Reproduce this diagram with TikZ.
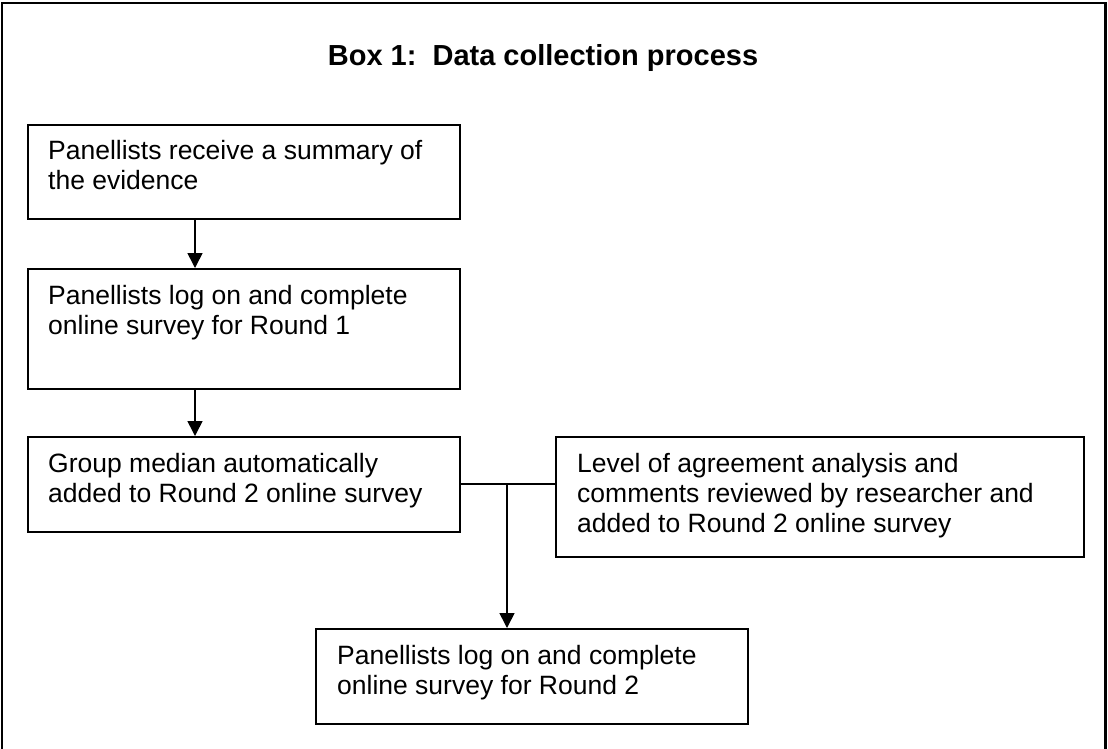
\documentclass[tikz,border=0pt]{standalone}
\usepackage{fontspec}
\setmainfont{Liberation Sans}
\usetikzlibrary{arrows.meta}
\begin{document}
\begin{tikzpicture}[x=1pt,y=-1pt,
  stepbox/.style={draw=black,line width=1.8pt,rectangle,inner sep=0pt,anchor=north west,minimum height=#1},
  boxtext/.style={anchor=base west,align=left,inner sep=0pt,font=\fontsize{26.5}{30}\selectfont},
  arr/.style={line width=1.6pt,-{Triangle[length=15pt,width=15pt]}},
  link/.style={line width=1.6pt}]
\useasboundingbox (0,0) rectangle (1108,748);
% outer frame
\draw[line width=2.6pt] (2,760) -- (2,3) -- (1105.5,3) -- (1105.5,760);
% title
\node[anchor=base,inner sep=0pt,font=\fontsize{29}{34}\selectfont\bfseries] (title) at (543,65) {Box 1:\ \ Data collection process};
% boxes
\node[stepbox=94pt,minimum width=432pt] (b1) at (27,124) {};
\node[stepbox=120pt,minimum width=432pt] (b2) at (27,268) {};
\node[stepbox=95pt,minimum width=432pt] (b3) at (27,436) {};
\node[stepbox=120pt,minimum width=528pt] (b4) at (555,436) {};
\node[stepbox=95pt,minimum width=432pt] (b5) at (315,628) {};
% texts (anchored at the baseline of their last line)
\node[boxtext] (t1) at (48,189) {Panellists receive a summary of\\the evidence};
\node[boxtext] (t2) at (48,334) {Panellists log on and complete\\online survey for Round 1};
\node[boxtext] (t3) at (48,502) {Group median automatically\\added to Round 2 online survey};
\node[boxtext] (t4) at (577,532) {Level of agreement analysis and\\comments reviewed by researcher and\\added to Round 2 online survey};
\node[boxtext] (t5) at (337,694) {Panellists log on and complete\\online survey for Round 2};
% connectors
\coordinate (c1) at (195,0);
\coordinate (j) at (507,484);
\draw[arr] (b1.south -| c1) -- (b2.north -| c1);
\draw[arr] (b2.south -| c1) -- (b3.north -| c1);
\draw[link] (j -| b3.east) -- (j) -- (j -| b4.west);
\draw[arr] (j) -- (j |- b5.north);
\end{tikzpicture}
\end{document}
